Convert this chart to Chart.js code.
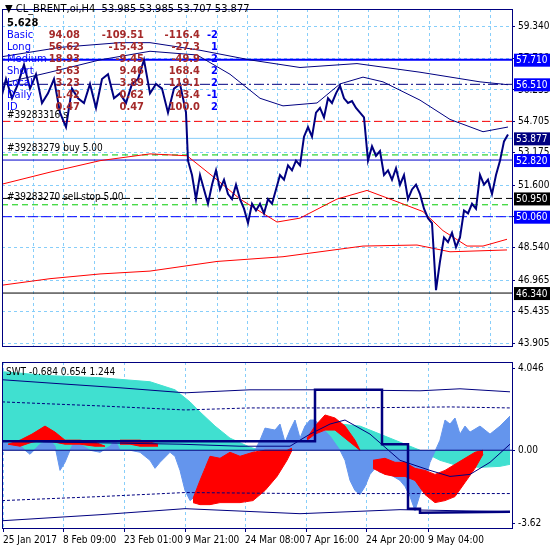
<!DOCTYPE html>
<html>
<head>
<meta charset="utf-8">
<script src="https://cdn.jsdelivr.net/npm/chart.js@4.4.1/dist/chart.umd.min.js"></script>
<style>
  body { margin: 0; background: #fff; }
  #top { position: absolute; left: 0; top: 0; }
  #bot { position: absolute; left: 0; top: 353px; }
</style>
</head>
<body>
<canvas id="top" width="550" height="355"></canvas>
<canvas id="bot" width="550" height="197"></canvas>
<script>
// ---- price pane data (x = bar position along the time axis) ----
const priceX = [0,6,12,18,24,30,36,42,48,54,60,66,72,78,84,90,96,102,108,114,120,126,132,138,144,150,156,162,168,174,180,184,
  186,188,192,196,200,204,208,212,216,220,224,228,232,236,240,244,248,252,256,260,264,268,272,276,280,284,288,292,296,300,
  304,308,312,316,320,324,328,332,336,340,344,348,352,356,360,364,368,372,376,380,384,388,392,396,400,404,408,412,416,420,
  424,428,432,436,440,444,448,452,456,460,464,468,472,476,480,484,488,492,496,500,504,508];
const priceY = [55.60,56.77,55.83,56.53,57.47,56.30,57.00,55.60,56.07,56.77,55.13,54.43,56.30,55.83,55.60,56.53,55.36,56.77,57.00,55.83,56.07,55.60,56.53,56.77,57.70,56.07,56.53,56.30,55.13,56.30,56.53,55.60,
  55.13,52.79,52.09,50.92,52.09,51.39,50.69,51.62,52.32,51.39,51.86,51.16,50.92,51.62,50.92,50.45,49.75,50.69,50.36,50.69,50.22,50.92,50.69,51.39,52.09,51.86,52.56,52.32,52.79,52.56,
  53.96,54.43,53.96,55.13,55.36,54.90,55.83,55.60,56.07,56.44,55.83,55.60,55.69,55.36,55.13,54.90,52.79,53.49,53.03,53.26,52.09,52.32,51.86,52.42,51.62,52.09,50.92,51.39,51.62,51.16,
  50.45,49.99,49.75,46.48,47.88,49.05,48.82,49.28,48.58,49.05,50.36,50.22,50.69,50.45,52.09,51.62,51.86,51.16,52.09,52.79,53.73,54.06];

const blueAX = [0,60,120,150,200,250,300,357,420,480,508];
const blueAY = [57.84,58.31,58.54,58.54,58.17,57.70,57.33,57.52,57.10,56.63,56.49];
const blueBX = [0,50,100,150,197,230,260,283,317,340,363,383,420,450,483,508];
const blueBY = [56.53,57.10,57.70,58.12,57.94,57.00,55.83,55.46,55.60,56.53,56.86,56.63,55.74,54.80,54.20,54.43];
const redUX = [0,50,100,150,187,217,240,277,300,337,367,390,423,443,467,483,507];
const redUY = [51.62,52.23,52.79,53.12,53.03,51.86,50.92,49.80,49.99,50.92,51.34,50.92,50.31,49.38,48.63,48.63,48.96];
const redLX = [0,50,100,150,217,283,363,417,450,507];
const redLY = [46.71,47.04,47.27,47.41,47.88,48.11,48.63,48.68,48.35,48.44];

const levelValues = [57.71, 56.51, 54.705, 53.877, 53.07, 52.82, 50.95, 50.64, 50.06, 46.34];
const priceTicks = [59.34, 57.79, 56.235, 54.705, 53.175, 51.6, 50.06, 48.54, 46.965, 45.435, 43.905];
const badgeValues = [57.71, 56.51, 53.877, 52.82, 50.95, 50.06, 46.34];

const tableRows = ['Basic','Long','Medium','Short','Local','Daily','ID'];
const tableCol1 = ['94.08','56.62','18.93','5.63','3.23','1.42','0.47'];
const tableCol2 = ['-109.51','-15.43','-9.45','9.46','3.89','0.62','0.47'];
const tableCol3 = ['-116.4','-27.3','-49.9','168.4','119.1','43.4','100.0'];
const tableCol4 = ['-2','1','-2','2','2','-1','2'];

// ---- SWT pane data ----
const turqX = [2,50,100,150,175,190,200,215,230,250,260,280,300,320,340,360,380,400,420,440,460,480,500,510];
const turqY = [3.9,3.7,3.6,3.4,3.0,2.4,1.9,1.2,0.6,0.15,0,0.1,0.5,1.0,1.3,1.2,0.8,0.4,0,-0.5,-0.8,-0.85,-0.8,-0.7];
const cornX = [2,10,15,25,30,40,50,55,60,65,70,75,80,90,100,110,115,120,130,140,150,155,160,170,175,180,185,190,195,200,205,210,220,230,235,240,245,250,255,260,265,275,280,285,290,295,300,305,310,315,320,330,340,345,350,355,360,365,370,375,380,390,400,405,410,415,420,425,430,440,445,450,455,460,465,470,480,490,500,510];
const cornY = [0.4,0.3,0.5,0,-0.2,0.3,0.5,0.2,-1,-0.6,0,0.5,0.3,0,-0.1,0.2,0.5,0,0,-0.1,-0.5,-0.9,-0.6,-0.1,-0.3,-1,-2,-2.5,-2.3,-1.8,-0.8,-0.8,-0.6,-0.3,-1.6,-1.2,-0.9,-0.5,0,0.5,1.1,1.0,1.3,0.4,1.0,1.5,0.6,1.2,1.5,1.5,1.2,0.7,0,-0.5,-1.5,-2.0,-2.2,-1.8,-1.2,-0.9,-1.1,-1.2,-1.5,-1.8,-2.3,-3.0,-2.2,-1.5,-0.6,0.5,1.5,1.3,1.6,0.8,1.2,0.9,1.2,0.8,1.2,1.7];
const redSegX = [[8,20,32,45,55,65,80,95,105],[120,130,140,150,158],[193,200,210,220,230,240,253,265,277,287,292],[307,315,325,335,345,355,360],[373,385,395,405,415,425,435,445,455,465,475,483]];
const redSegTop = [[0.3,0.5,0.8,1.2,0.9,0.5,0.5,0.4,0.2],[0.5,0.5,0.5,0.4,0.3],[-2.4,-1.5,-0.3,-0.4,-0.1,-0.3,-0.1,0,0,0,0.1],[0.6,1.2,1.75,1.6,1.2,0.5,0],[-0.5,-0.4,-0.6,-0.6,-0.9,-1.0,-1.2,-1.0,-0.7,-0.4,-0.1,0]];
const redSegBot = [[0.3,0.2,0.4,0.5,0.4,0.3,0.3,0.2,0.2],[0.3,0.3,0.2,0.2,0.2],[-2.6,-2.7,-2.7,-2.6,-2.6,-2.6,-2.5,-2.0,-1.3,-0.5,0],[0.5,0.8,1.0,1.0,0.6,0.2,0],[-0.9,-1.2,-1.3,-1.3,-1.5,-2.2,-2.6,-2.5,-2.3,-1.6,-0.9,-0.2]];
const stepX = [2,315,315,382,382,408,408,420,420,510];
const stepY = [0.45,0.45,3.0,3.0,0.3,0.3,-2.9,-2.9,-3.1,-3.05];
const smoothX = [2,60,120,180,240,290,310,330,345,370,400,430,450,470,490,510];
const smoothY = [0.45,0.4,0.35,0.3,0.2,0.2,0.8,1.3,1.5,0.8,-0.5,-1.0,-1.3,-1.2,-0.6,0.3];
const upperX = [2,60,120,185,250,330,420,460,510];
const upperY = [3.5,3.3,3.1,2.85,3.0,3.0,2.95,3.05,2.9];
const upDashX = [2,100,185,250,350,450,510];
const upDashY = [2.4,2.2,2.0,2.1,2.1,2.15,2.1];
const loDashX = [2,100,185,300,400,510];
const loDashY = [-2.5,-2.3,-2.1,-2.15,-2.15,-2.15];
const lowerX = [2,100,185,300,400,510];
const lowerY = [-3.5,-3.2,-2.9,-3.15,-2.95,-3.05];
const swtTicks = [4.046, 0, -3.62];
const timeTicks = [3, 63, 124, 185, 245, 306, 366, 428];
const timeLabels = ['25 Jan 2017','8 Feb 09:00','23 Feb 01:00','9 Mar 21:00','24 Mar 08:00','7 Apr 16:00','24 Apr 20:00','9 May 04:00'];
const gridX = [33,63,94,125,155,186,217,247,277,307,338,368,398,429,459,490];

const NAVY = '#000080';
const GRID = '#87cefa';
const FONT = { family: 'DejaVu Sans Condensed', size: 10 };
const pts = (xs, ys) => xs.map((x, i) => ({ x, y: ys[i] }));
// Chart.js paints higher "order" first, so fills get high numbers and lines low ones
const line = (xs, ys, color, width, dash, order) => ({
  data: pts(xs, ys), borderColor: color, borderWidth: width || 1,
  borderDash: dash || [], pointRadius: 0, fill: false, tension: 0, order: order || 0
});
const levelStyles = [
  [ '#0000ff', 2, [] ], [ NAVY, 1, [10,3,2,3] ], [ '#ff0000', 1, [8,4] ], [ '#87cefa', 1, [] ],
  [ '#00cc00', 1, [6,4] ], [ '#0000cc', 1, [] ], [ '#000000', 1, [8,4] ], [ '#00cc00', 1, [6,4] ],
  [ '#0000ff', 1, [10,3] ], [ '#000000', 1, [] ]
];

const topPlugin = {
  id: 'topText',
  afterDraw(chart) {
    const { ctx, chartArea: a, scales: { y } } = chart;
    ctx.save();
    ctx.strokeStyle = NAVY; ctx.lineWidth = 1;
    ctx.strokeRect(a.left + 0.5, a.top + 0.5, a.width, a.height);
    ctx.font = '11px "DejaVu Sans Condensed"';
    ctx.textBaseline = 'middle';
    ctx.fillStyle = '#000';
    ctx.fillText('\u25BC CL_BRENT,oi,H4  53.985 53.985 53.707 53.877', 5, 9);
    ctx.font = 'bold 11px "DejaVu Sans Condensed"';
    ctx.fillText('5.628', 7, 23);
    tableRows.forEach((r, i) => {
      const ty = 35 + i * 12;
      ctx.font = '11px "DejaVu Sans Condensed"';
      ctx.fillStyle = '#0000ff'; ctx.textAlign = 'left';
      ctx.fillText(r, 7, ty);
      ctx.font = 'bold 11px "DejaVu Sans Condensed"';
      ctx.fillStyle = '#a52a2a'; ctx.textAlign = 'right';
      ctx.fillText(tableCol1[i], 80, ty);
      ctx.fillText(tableCol2[i], 144, ty);
      ctx.fillText(tableCol3[i], 200, ty);
      ctx.fillStyle = '#0000ff';
      ctx.fillText(tableCol4[i], 218, ty);
    });
    ctx.textAlign = 'left'; ctx.font = '10px "DejaVu Sans Condensed"'; ctx.fillStyle = '#000';
    ctx.fillText('#39283316 s', 7, y.getPixelForValue(54.705) - 6);
    ctx.fillText('#39283279 buy 5.00', 7, y.getPixelForValue(53.07) - 7);
    ctx.fillText('#39283270 sell stop 5.00', 7, y.getPixelForValue(50.64) - 7);
    // price badges on the right axis
    ctx.font = '10px "DejaVu Sans Condensed"';
    badgeValues.forEach(v => {
      const py = y.getPixelForValue(v);
      ctx.fillStyle = (v === 50.95 || v === 46.34) ? '#000' : (v === 53.877 ? NAVY : '#0000ff');
      ctx.fillRect(a.right + 2, py - 6, 36, 13);
      ctx.fillStyle = '#fff';
      ctx.fillText(v.toFixed(3), a.right + 4, py + 1);
    });
    ctx.restore();
  }
};

new Chart(document.getElementById('top'), {
  type: 'line',
  data: {
    datasets: [
      ...levelValues.map((v, i) => line([2, 512], [v, v], levelStyles[i][0], levelStyles[i][1], levelStyles[i][2], 5)),
      line(blueAX, blueAY, NAVY, 1, [], 3),
      line(blueBX, blueBY, NAVY, 1, [], 3),
      line(redUX, redUY, '#ff0000', 1, [], 3),
      line(redLX, redLY, '#ff0000', 1, [], 3),
      line(priceX, priceY, NAVY, 2, [], 0)
    ]
  },
  options: {
    responsive: false, animation: false,
    layout: { padding: { left: 2, top: 2, bottom: 2, right: 0 } },
    plugins: { legend: { display: false }, tooltip: { enabled: false } },
    scales: {
      x: {
        type: 'linear', min: 2, max: 512,
        afterBuildTicks: s => { s.ticks = gridX.map(v => ({ value: v })); },
        afterFit: s => { s.height = 0; },
        ticks: { display: false },
        grid: { color: GRID, drawTicks: false },
        border: { color: 'rgba(0,0,0,0)', dash: [3, 3] }
      },
      y: {
        position: 'right', min: 43.76, max: 60.18,
        afterBuildTicks: s => { s.ticks = priceTicks.map(v => ({ value: v })); },
        afterFit: s => { s.width = 38; },
        ticks: { color: '#000', font: FONT, padding: 3, callback: v => v.toFixed(3) },
        grid: { color: GRID, drawTicks: true, tickLength: 3, tickColor: NAVY },
        border: { color: NAVY, dash: [3, 3] }
      }
    }
  },
  plugins: [topPlugin]
});

const botPlugin = {
  id: 'botText',
  afterDraw(chart) {
    const { ctx, chartArea: a } = chart;
    ctx.save();
    ctx.strokeStyle = NAVY; ctx.lineWidth = 1;
    ctx.strokeRect(a.left + 0.5, a.top + 0.5, a.width, a.height);
    ctx.font = '10px "DejaVu Sans Condensed"'; ctx.fillStyle = '#000'; ctx.textBaseline = 'middle';
    ctx.fillText('SWT -0.684 0.654 1.244', 6, a.top + 10);
    ctx.restore();
  }
};

new Chart(document.getElementById('bot'), {
  type: 'line',
  data: {
    datasets: [
      { ...line(turqX, turqY, '#40e0d0', 1, [], 30), backgroundColor: '#40e0d0', fill: 'origin' },
      { ...line(cornX, cornY, '#6495ed', 1, [], 20), backgroundColor: '#6495ed', fill: 'origin' },
      ...redSegX.flatMap((xs, i) => [
        line(xs, redSegBot[i], '#ff0000', 0, [], 10),
        { ...line(xs, redSegTop[i], '#ff0000', 0, [], 10), backgroundColor: '#ff0000', fill: '-1' }
      ]),
      line([2, 512], [0, 0], NAVY, 1),
      line(upperX, upperY, NAVY, 1),
      line(upDashX, upDashY, NAVY, 1, [3, 2]),
      line(loDashX, loDashY, NAVY, 1, [3, 2]),
      line(lowerX, lowerY, NAVY, 1),
      line(smoothX, smoothY, NAVY, 1),
      line(stepX, stepY, NAVY, 2.5, [], -1)
    ]
  },
  options: {
    responsive: false, animation: false,
    layout: { padding: { left: 2, top: 2, bottom: 0, right: 0 } },
    plugins: { legend: { display: false }, tooltip: { enabled: false } },
    scales: {
      x: {
        type: 'linear', min: 2, max: 512,
        afterBuildTicks: s => { s.ticks = timeTicks.map(v => ({ value: v })); },
        afterFit: s => { s.height = 22; },
        ticks: { color: '#000', font: FONT, align: 'start', maxRotation: 0, autoSkip: false, padding: 2,
                 callback: v => timeLabels[timeTicks.indexOf(v)] },
        grid: { color: GRID, tickLength: 4, tickColor: NAVY },
        border: { color: NAVY, dash: [3, 3] }
      },
      y: {
        position: 'right', min: -3.86, max: 4.38,
        afterBuildTicks: s => { s.ticks = swtTicks.map(v => ({ value: v })); },
        afterFit: s => { s.width = 38; },
        ticks: { color: '#000', font: FONT, padding: 3, callback: v => v === 0 ? '0.00' : String(v) },
        grid: { drawOnChartArea: false, tickLength: 3, tickColor: NAVY },
        border: { color: NAVY }
      }
    }
  },
  plugins: [botPlugin]
});
</script>
</body>
</html>
